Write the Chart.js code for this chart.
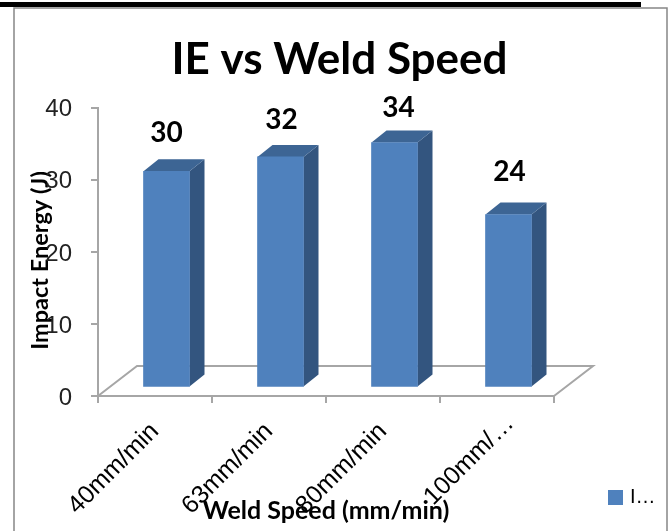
<!DOCTYPE html>
<html>
<head>
<meta charset="utf-8">
<title>IE vs Weld Speed</title>
<style>
  html, body { margin: 0; padding: 0; background: #fff; }
  canvas { display: block; }
</style>
<script src="https://cdn.jsdelivr.net/npm/chart.js@4/dist/chart.umd.min.js"></script>
</head>
<body>
<div style="width:670px;height:531px"><canvas id="myChart"></canvas></div>
<script>
const categories = ['40mm/min', '63mm/min', '80mm/min', '100mm/\u2026'];
const impactEnergy = [30, 32, 34, 24];
const dataLabels = ['30', '32', '34', '24'];
const yTicks = [0, 10, 20, 30, 40];
const seriesName = 'I\u2026';

const barColor = '#4f81bd';
const sideColor = '#33557f';
const topColor = '#3d6594';
const axisColor = '#a6a6a6';
const frameColor = '#868686';

// 3d look: how far the bars sit into the floor, and how deep they are
const barShift = { x: 11.5, y: -8.5 };
const barDepth = { x: 15, y: -12 };
const floorDepth = { x: 39, y: -30 };
const labelNudgeX = [0, 1, 4, 1];
const labelNudgeY = [0, 1, 3, -5];

const frame = {
  id: 'frame',
  afterLayout(chart) {
    // the cut off last label sits further up its slope than the others
    const last = chart.scales.x.getLabelItems().at(-1);
    last.options.translation[0] += 13;
    last.options.translation[1] -= 8;
  },
  beforeDraw(chart) {
    const { ctx, width, height } = chart;
    ctx.save();
    ctx.fillStyle = '#000';
    ctx.fillRect(0, 2, 641, 5);
    ctx.strokeStyle = frameColor;
    ctx.lineWidth = 1.5;
    ctx.beginPath();
    ctx.moveTo(14, height);
    ctx.lineTo(14, 8);
    ctx.lineTo(width - 3, 8);
    ctx.lineTo(width - 3, height);
    ctx.stroke();
    ctx.restore();
  },
};

const bars3d = {
  id: 'bars3d',
  beforeDatasetsDraw(chart) {
    const { ctx, scales: { x, y } } = chart;
    // floor
    ctx.save();
    ctx.strokeStyle = axisColor;
    ctx.lineWidth = 2;
    ctx.beginPath();
    ctx.moveTo(x.left, y.bottom);
    ctx.lineTo(x.left + floorDepth.x, y.bottom + floorDepth.y);
    ctx.lineTo(x.right + floorDepth.x, y.bottom + floorDepth.y);
    ctx.lineTo(x.right, y.bottom);
    ctx.stroke();
    ctx.restore();

    // stays translated until afterDatasetsDraw so the bars move along
    ctx.save();
    ctx.translate(barShift.x, barShift.y);
    chart.getDatasetMeta(0).data.forEach(function (bar) {
      const right = bar.x + bar.width / 2;
      const left = bar.x - bar.width / 2;
      ctx.fillStyle = sideColor;
      ctx.beginPath();
      ctx.moveTo(right, bar.y);
      ctx.lineTo(right + barDepth.x, bar.y + barDepth.y);
      ctx.lineTo(right + barDepth.x, bar.base + barDepth.y);
      ctx.lineTo(right, bar.base);
      ctx.closePath();
      ctx.fill();
      ctx.fillStyle = topColor;
      ctx.beginPath();
      ctx.moveTo(left, bar.y);
      ctx.lineTo(left + barDepth.x, bar.y + barDepth.y);
      ctx.lineTo(right + barDepth.x, bar.y + barDepth.y);
      ctx.lineTo(right, bar.y);
      ctx.closePath();
      ctx.fill();
    });
  },
  afterDatasetsDraw(chart) {
    const { ctx } = chart;
    ctx.restore();

    // values above the bars
    ctx.save();
    ctx.fillStyle = '#000';
    ctx.font = 'bold 28px Lato';
    ctx.textAlign = 'center';
    ctx.textBaseline = 'middle';
    chart.getDatasetMeta(0).data.forEach(function (bar, i) {
      ctx.fillText(dataLabels[i], bar.x + barShift.x + labelNudgeX[i], bar.y + barShift.y - 38 + labelNudgeY[i]);
    });

    // legend, down in the corner beside the axis
    ctx.fillStyle = barColor;
    ctx.fillRect(608, 490, 15, 15);
    ctx.fillStyle = '#000';
    ctx.font = '20px "Liberation Sans"';
    ctx.textAlign = 'left';
    ctx.fillText(seriesName, 630, 497);
    ctx.restore();
  },
};

const makeChart = function () {
  const data = {
    labels: categories,
    datasets: [
      {
        label: seriesName,
        data: impactEnergy,
        backgroundColor: barColor,
        borderWidth: 0,
        barThickness: 46,
        clip: false,
      },
    ],
  };

  const config = {
    type: 'bar',
    data,
    options: {
      responsive: false,
      animation: false,
      layout: { padding: { left: 9, right: 0, top: 0, bottom: 5 } },
      plugins: {
        legend: { display: false },
        tooltip: { enabled: false },
        title: {
          display: true,
          text: 'IE vs Weld Speed',
          color: '#000',
          font: { family: 'Lato', size: 44, weight: 'bold' },
          padding: { top: 33, bottom: 22 },
        },
      },
      scales: {
        x: {
          grid: { color: axisColor, lineWidth: 2, drawOnChartArea: false, tickLength: 7, tickWidth: 2 },
          border: { color: axisColor, width: 2 },
          ticks: {
            color: '#000',
            font: { family: 'Liberation Sans', size: 25 },
            minRotation: 45,
            maxRotation: 45,
            autoSkip: false,
            padding: 14,
          },
          title: {
            display: true,
            text: 'Weld Speed (mm/min)',
            color: '#000',
            font: { family: 'Lato', size: 25, weight: 'bold' },
            padding: 0,
          },
          afterFit(scale) {
            scale.height = 130;
          },
        },
        y: {
          min: 0,
          max: 40,
          afterBuildTicks(scale) {
            scale.ticks = yTicks.map((v) => ({ value: v }));
          },
          grid: { color: axisColor, lineWidth: 2, drawOnChartArea: false, tickLength: 7, tickWidth: 2 },
          border: { color: axisColor, width: 2 },
          ticks: {
            color: '#222',
            font: { family: 'Liberation Sans', size: 24 },
            padding: 19,
            labelOffset: 2,
          },
          title: {
            display: true,
            text: 'Impact Energy (J)   ',
            color: '#000',
            font: { family: 'Lato', size: 23.5, weight: 'bold' },
            padding: { top: 17, bottom: 0 },
          },
          afterFit(scale) {
            scale.width = 89;
          },
        },
        // empty axis, only keeps the right side free for the legend
        spacer: {
          position: 'right',
          grid: { display: false },
          border: { display: false },
          ticks: { display: false },
          afterFit(scale) {
            scale.width = 116;
          },
        },
      },
    },
    plugins: [frame, bars3d],
  };

  new Chart(document.getElementById('myChart'), config);
};

const init = function () {
  const canvas = document.getElementById('myChart');
  canvas.width = 670;
  canvas.height = 531;
  makeChart();
};
document.addEventListener('DOMContentLoaded', init);
</script>
</body>
</html>
